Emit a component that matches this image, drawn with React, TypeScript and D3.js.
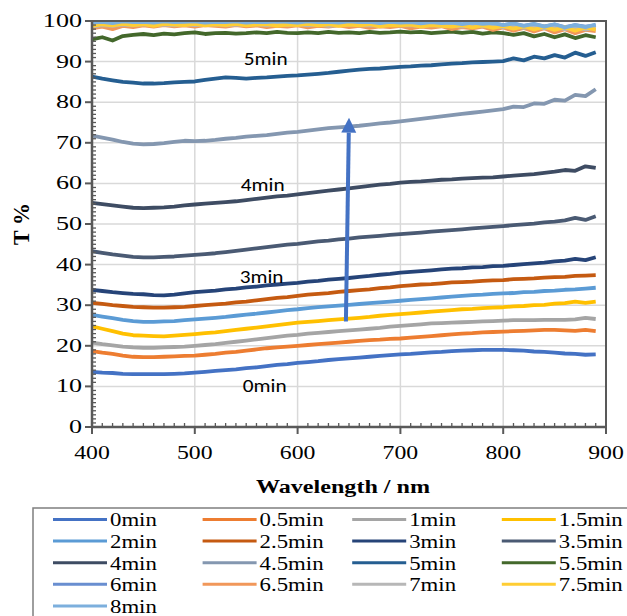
import React from 'react'
import * as d3 from 'd3'

// wavelength grid (nm), one reading every 10 nm
const wavelength = d3.range(400, 891, 10)

const labels = ['0min', '0.5min', '1min', '1.5min', '2min', '2.5min', '3min', '3.5min', '4min',
  '4.5min', '5min', '5.5min', '6min', '6.5min', '7min', '7.5min', '8min']

const colors = ['#4472C4', '#ED7D31', '#A5A5A5', '#FFC000', '#5B9BD5', '#C55A11', '#264478', '#4A5A73',
  '#3E4C63', '#8497B0', '#255E91', '#43682B', '#698ED0', '#F1975A', '#B7B7B7', '#FFCD33', '#7CAFDD']

// transmittance T %
const t0 = [13.6, 13.4, 13.3, 13.1, 13.0, 13.0, 13.0, 13.0, 13.1, 13.2, 13.4, 13.6, 13.8, 14.0, 14.2, 14.5, 14.7, 15.0, 15.3, 15.5,
  15.8, 16.0, 16.2, 16.5, 16.7, 16.9, 17.1, 17.3, 17.5, 17.7, 17.9, 18.0, 18.2, 18.4, 18.5, 18.7, 18.8, 18.9, 19.0, 19.0,
  19.0, 18.9, 18.8, 18.6, 18.5, 18.3, 18.1, 18.0, 17.8, 17.9]
const t05 = [18.7, 18.3, 18.0, 17.6, 17.3, 17.2, 17.2, 17.3, 17.4, 17.5, 17.6, 17.8, 18.0, 18.3, 18.5, 18.8, 19.1, 19.4, 19.6, 19.8,
  20.0, 20.2, 20.4, 20.6, 20.8, 21.0, 21.2, 21.4, 21.5, 21.7, 21.8, 22.0, 22.2, 22.4, 22.6, 22.8, 23.0, 23.1, 23.3, 23.4,
  23.5, 23.6, 23.7, 23.8, 23.9, 23.9, 23.8, 23.7, 23.9, 23.6]
const t1 = [20.8, 20.4, 20.1, 19.8, 19.6, 19.5, 19.5, 19.6, 19.7, 19.8, 20.0, 20.2, 20.4, 20.7, 21.0, 21.3, 21.6, 21.9, 22.2, 22.5,
  22.7, 23.0, 23.2, 23.4, 23.6, 23.8, 24.0, 24.2, 24.4, 24.7, 24.9, 25.1, 25.3, 25.5, 25.6, 25.7, 25.8, 25.9, 26.0, 26.1,
  26.2, 26.3, 26.3, 26.3, 26.4, 26.4, 26.4, 26.5, 26.9, 26.6]
const t15 = [24.8, 24.2, 23.6, 23.0, 22.6, 22.5, 22.4, 22.3, 22.5, 22.7, 22.9, 23.1, 23.3, 23.6, 23.9, 24.2, 24.5, 24.8, 25.1, 25.4,
  25.7, 25.9, 26.1, 26.3, 26.5, 26.7, 26.9, 27.1, 27.4, 27.6, 27.8, 28.0, 28.2, 28.4, 28.6, 28.8, 29.0, 29.1, 29.3, 29.4,
  29.5, 29.7, 29.8, 30.0, 30.1, 30.4, 30.5, 30.9, 30.6, 30.9]
const t2 = [27.6, 27.2, 26.8, 26.4, 26.1, 25.9, 25.9, 26.0, 26.1, 26.3, 26.5, 26.7, 26.9, 27.1, 27.4, 27.7, 27.9, 28.2, 28.5, 28.8,
  29.0, 29.3, 29.5, 29.7, 29.9, 30.1, 30.3, 30.5, 30.7, 30.9, 31.1, 31.3, 31.5, 31.7, 31.9, 32.1, 32.3, 32.5, 32.6, 32.8,
  32.9, 33.0, 33.2, 33.3, 33.5, 33.6, 33.8, 33.9, 34.1, 34.3]
const t25 = [30.6, 30.3, 30.0, 29.8, 29.6, 29.5, 29.4, 29.4, 29.5, 29.6, 29.8, 30.0, 30.2, 30.4, 30.7, 30.9, 31.2, 31.5, 31.8, 32.0,
  32.3, 32.6, 32.8, 33.0, 33.3, 33.5, 33.7, 33.9, 34.2, 34.4, 34.7, 34.9, 35.1, 35.2, 35.4, 35.6, 35.7, 35.8, 36.0, 36.1,
  36.2, 36.4, 36.5, 36.6, 36.8, 36.9, 37.0, 37.2, 37.3, 37.4]
const t3 = [33.8, 33.5, 33.2, 33.0, 32.8, 32.7, 32.5, 32.4, 32.6, 32.9, 33.2, 33.4, 33.6, 33.9, 34.1, 34.4, 34.6, 34.9, 35.1, 35.3,
  35.5, 35.8, 36.0, 36.3, 36.5, 36.7, 37.0, 37.2, 37.5, 37.7, 38.0, 38.2, 38.4, 38.6, 38.8, 39.0, 39.1, 39.3, 39.4, 39.6,
  39.7, 39.9, 40.1, 40.3, 40.5, 40.8, 41.0, 41.4, 41.1, 41.8]
const t35 = [43.3, 42.9, 42.5, 42.2, 41.9, 41.8, 41.8, 41.9, 42.0, 42.2, 42.4, 42.6, 42.8, 43.1, 43.4, 43.7, 44.0, 44.3, 44.6, 44.9,
  45.1, 45.4, 45.7, 45.9, 46.2, 46.4, 46.7, 46.9, 47.1, 47.3, 47.5, 47.7, 47.9, 48.1, 48.3, 48.5, 48.7, 48.9, 49.1, 49.3,
  49.5, 49.7, 49.9, 50.1, 50.4, 50.6, 50.9, 51.5, 51.0, 51.9]
const t4 = [55.2, 54.9, 54.6, 54.3, 54.0, 53.9, 54.0, 54.1, 54.3, 54.6, 54.8, 55.0, 55.2, 55.4, 55.6, 55.9, 56.2, 56.5, 56.8, 57.0,
  57.3, 57.6, 57.9, 58.2, 58.5, 58.8, 59.1, 59.4, 59.7, 59.9, 60.2, 60.4, 60.5, 60.7, 60.9, 61.0, 61.2, 61.3, 61.4, 61.5,
  61.7, 61.9, 62.1, 62.3, 62.6, 62.9, 63.3, 63.1, 64.2, 63.8]
const t45 = [71.8, 71.3, 70.8, 70.2, 69.8, 69.6, 69.7, 69.9, 70.2, 70.5, 70.4, 70.5, 70.7, 71.0, 71.2, 71.5, 71.7, 71.9, 72.2, 72.5,
  72.7, 73.0, 73.3, 73.6, 73.8, 74.0, 74.2, 74.5, 74.8, 75.0, 75.3, 75.6, 75.9, 76.2, 76.5, 76.8, 77.1, 77.4, 77.7, 78.0,
  78.3, 78.9, 78.8, 79.7, 79.6, 80.6, 80.4, 81.8, 81.5, 83.2]
const t5 = [86.3, 85.8, 85.4, 85.0, 84.8, 84.6, 84.6, 84.7, 84.9, 85.0, 85.1, 85.5, 85.8, 86.1, 86.0, 85.8, 86.0, 86.1, 86.3, 86.5,
  86.6, 86.8, 87.0, 87.2, 87.5, 87.8, 88.0, 88.2, 88.3, 88.5, 88.7, 88.8, 89.0, 89.1, 89.3, 89.5, 89.6, 89.8, 89.9, 90.0,
  90.1, 90.8, 90.3, 91.2, 90.8, 91.6, 91.0, 92.2, 91.4, 92.3]
const t55 = [95.5, 96.0, 95.2, 96.3, 96.6, 96.8, 96.5, 96.9, 96.7, 97.0, 97.2, 96.8, 97.0, 97.1, 96.9, 97.0, 97.2, 97.0, 97.3, 97.1,
  97.0, 97.2, 97.0, 97.3, 97.1, 97.2, 97.0, 97.3, 97.1, 97.2, 97.4, 97.2, 97.3, 97.0, 97.2, 97.4, 97.1, 97.3, 96.9, 97.2,
  97.0, 96.6, 97.0, 96.2, 96.8, 96.0, 96.7, 95.8, 96.5, 96.0]
const t6 = [99.0, 99.3, 99.5, 99.2, 99.4, 99.5, 99.3, 99.6, 99.4, 99.5, 99.3, 99.6, 99.4, 99.5, 99.6, 99.3, 99.5, 99.4, 99.6, 99.5,
  99.3, 99.5, 99.6, 99.4, 99.5, 99.3, 99.6, 99.4, 99.5, 99.3, 99.5, 99.4, 99.2, 99.5, 99.3, 99.4, 99.1, 99.5, 99.2, 99.4,
  99.0, 99.3, 98.8, 99.2, 98.7, 99.1, 98.5, 99.0, 98.6, 98.9]
const t65 = [98.2, 98.6, 98.0, 98.8, 98.5, 98.9, 98.6, 99.0, 98.7, 98.9, 98.6, 99.0, 98.8, 98.6, 99.0, 98.7, 98.9, 98.5, 98.8, 98.6,
  98.9, 98.4, 98.8, 98.6, 98.9, 98.5, 98.8, 98.3, 98.7, 98.5, 98.8, 98.2, 98.6, 98.4, 98.7, 98.0, 98.5, 98.2, 98.6, 97.8,
  98.4, 97.6, 98.3, 97.4, 98.2, 97.2, 98.0, 97.0, 97.8, 97.5]
const t7 = [98.6, 99.0, 98.8, 99.1, 98.9, 99.2, 99.0, 99.1, 98.9, 99.2, 99.0, 99.1, 99.2, 98.9, 99.1, 99.0, 99.2, 98.9, 99.1, 99.0,
  99.2, 98.9, 99.1, 98.8, 99.0, 99.1, 98.9, 99.0, 98.8, 99.1, 98.9, 99.0, 98.7, 99.0, 98.8, 98.9, 98.6, 98.9, 98.7, 98.8,
  98.5, 98.8, 98.3, 98.7, 98.2, 98.6, 98.0, 98.5, 97.9, 98.4]
const t75 = [98.8, 99.2, 98.9, 99.3, 99.0, 99.2, 98.8, 99.3, 99.1, 99.0, 99.3, 98.9, 99.2, 99.0, 99.3, 98.9, 99.1, 99.2, 98.8, 99.1,
  99.0, 99.3, 98.9, 99.2, 98.8, 99.1, 98.9, 99.2, 98.7, 99.0, 98.9, 99.1, 98.6, 99.0, 98.8, 98.6, 99.0, 98.4, 98.9, 98.3,
  98.8, 98.1, 98.7, 97.9, 98.6, 97.8, 98.5, 97.6, 98.4, 97.9]
const t8 = [99.6, 99.8, 99.5, 99.9, 99.7, 99.8, 99.6, 99.9, 99.7, 99.8, 99.9, 99.6, 99.8, 99.7, 99.9, 99.6, 99.8, 99.7, 99.9, 99.8,
  99.6, 99.9, 99.7, 99.8, 99.6, 99.9, 99.7, 99.8, 99.5, 99.8, 99.6, 99.7, 99.4, 99.7, 99.5, 99.6, 99.2, 99.6, 99.3, 99.5,
  99.0, 99.4, 98.8, 99.3, 98.6, 99.2, 98.4, 99.0, 98.5, 99.1]

const series = [t0, t05, t1, t15, t2, t25, t3, t35, t4, t45, t5, t55, t6, t65, t7, t75, t8]

const xTicks = [400, 500, 600, 700, 800, 900]
const yTicks = [0, 10, 20, 30, 40, 50, 60, 70, 80, 90, 100]

// text labels inside the plot, in data units
const notes = [
  { text: '5min', x: 569, y: 89.2 },
  { text: '4min', x: 566, y: 58.2 },
  { text: '3min', x: 565, y: 35.5 },
  { text: '0min', x: 568, y: 8.7 },
]
const arrowFrom = { x: 647, y: 26 }
const arrowTo = { x: 650, y: 76.2 }

const W = 627
const H = 616
const margin = { left: 92, right: 21, top: 21, bottom: 189 }
const serif = '"Liberation Serif", "Times New Roman", Times, serif'
const axisColor = '#595959'

export default function App() {
  const x = d3.scaleLinear().domain([400, 900]).range([margin.left, W - margin.right])
  const y = d3.scaleLinear().domain([0, 100]).range([H - margin.bottom, margin.top])
  const [x0, x1] = x.range()
  const [yb, yt] = y.range()

  const line = d3.line<number>()
    .x((_, i) => x(wavelength[i]))
    .y(d => y(d))

  const minorX = d3.range(410, 900, 10).filter(v => v % 100 !== 0)
  const minorY = d3.range(1, 100, 1).filter(v => v % 10 !== 0)

  const ax = x(arrowFrom.x), ay = y(arrowFrom.y)
  const bx = x(arrowTo.x), by = y(arrowTo.y)
  const ang = Math.atan2(by - ay, bx - ax)
  const headLen = 15, headW = 7.5
  const hx = bx - headLen * Math.cos(ang), hy = by - headLen * Math.sin(ang)
  const px = -Math.sin(ang) * headW, py = Math.cos(ang) * headW

  const legendCols = 4
  const legendRowH = 21.6
  const legendColW = 149.6

  return (
    <svg width={W} height={H} style={{ position: 'absolute', left: 0, top: 0, background: '#fff' }}>
      <defs>
        <clipPath id="plot">
          <rect x={x0} y={yt} width={x1 - x0} height={yb - yt} />
        </clipPath>
      </defs>
      <rect width={W} height={H} fill="#fff" />

      {/* grid */}
      {yTicks.filter(v => v > 0 && v < 100).map(v => (
        <line key={'gy' + v} x1={x0} x2={x1} y1={y(v)} y2={y(v)} stroke="#d9d9d9" strokeWidth={1.5} />
      ))}
      {xTicks.filter(v => v > 400 && v < 900).map(v => (
        <line key={'gx' + v} x1={x(v)} x2={x(v)} y1={yt} y2={yb} stroke="#d9d9d9" strokeWidth={1.5} />
      ))}

      {/* spectra */}
      <g clipPath="url(#plot)">
        {series.map((s, i) => (
          <path key={labels[i]} d={line(s) || ''} fill="none" stroke={colors[i]} strokeWidth={3.8}
            strokeLinejoin="round" />
        ))}
      </g>

      {/* frame and axes */}
      <line x1={x0} x2={x1 + 1} y1={yt} y2={yt} stroke={axisColor} strokeWidth={2} />
      <line x1={x1} x2={x1} y1={yt} y2={yb} stroke={axisColor} strokeWidth={2} />
      <line x1={x0} x2={x1 + 1} y1={yb} y2={yb} stroke={axisColor} strokeWidth={2.5} />
      <line x1={x0} x2={x0} y1={yt - 1} y2={yb + 1} stroke={axisColor} strokeWidth={2.5} />
      {yTicks.map(v => (
        <line key={'ty' + v} x1={x0 - 7} x2={x0} y1={y(v)} y2={y(v)} stroke={axisColor} strokeWidth={2} />
      ))}
      {minorY.map(v => (
        <line key={'my' + v} x1={x0} x2={x0 + 4} y1={y(v)} y2={y(v)} stroke={axisColor} strokeWidth={1.3} />
      ))}
      {xTicks.map(v => (
        <line key={'tx' + v} x1={x(v)} x2={x(v)} y1={yb} y2={yb + 7} stroke={axisColor} strokeWidth={2} />
      ))}
      {minorX.map(v => (
        <line key={'mx' + v} x1={x(v)} x2={x(v)} y1={yb} y2={yb - 4} stroke={axisColor} strokeWidth={1.3} />
      ))}

      {/* tick labels */}
      {yTicks.map(v => (
        <text key={'ly' + v} transform={`translate(${x0 - 10},${y(v) + 6}) scale(1.45,1)`}
          textAnchor="end" fontFamily={serif} fontSize={18} fill="#000">{v}</text>
      ))}
      {xTicks.map(v => (
        <text key={'lx' + v} transform={`translate(${x(v)},${yb + 32}) scale(1.25,1)`}
          textAnchor="middle" fontFamily={serif} fontSize={19} fill="#000">{v}</text>
      ))}

      {/* axis titles */}
      <text transform={`translate(${(x0 + x1) / 2 - 6},${yb + 66}) scale(1.27,1)`} textAnchor="middle"
        fontFamily={serif} fontSize={19} fontWeight="bold">Wavelength / nm</text>
      <text transform={`translate(28.5,224) rotate(-90) scale(1.1,1.2)`} textAnchor="middle"
        fontFamily={serif} fontSize={20} fontWeight="bold">T %</text>

      {/* in-plot notes */}
      {notes.map(n => (
        <text key={n.text} transform={`translate(${x(n.x)},${y(n.y)}) scale(1.15,1)`} textAnchor="middle"
          fontFamily="Carlito, Calibri, Lato, sans-serif" fontSize={18.5} fill="#000">{n.text}</text>
      ))}

      {/* arrow */}
      <line x1={ax} y1={ay} x2={hx} y2={hy} stroke="#4472C4" strokeWidth={4} />
      <polygon points={`${bx},${by} ${hx + px},${hy + py} ${hx - px},${hy - py}`} fill="#4472C4" />

      {/* legend */}
      <rect x={33} y={508} width={640} height={140} fill="none" stroke="#7f7f7f" strokeWidth={1.5} />
      {labels.map((lab, i) => {
        const col = i % legendCols
        const row = Math.floor(i / legendCols)
        const lx = 53 + col * legendColW
        const ly = 519.5 + row * legendRowH
        return (
          <g key={'lg' + lab}>
            <line x1={lx} x2={lx + 54} y1={ly} y2={ly} stroke={colors[i]} strokeWidth={3} />
            <text transform={`translate(${lx + 57},${ly + 6.8}) scale(1.2,1)`} fontFamily={serif}
              fontSize={19} fill="#000">{lab}</text>
          </g>
        )
      })}
    </svg>
  )
}
